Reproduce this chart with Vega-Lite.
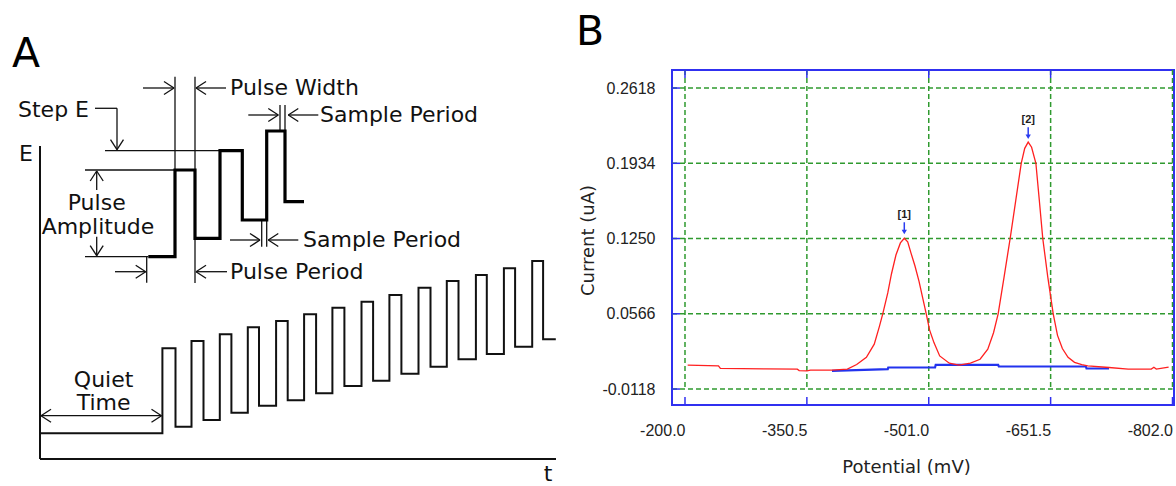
{
"$schema":"https://vega.github.io/schema/vega-lite/v6.json",
"width":502,"height":335,
"autosize":{"type":"none"},
"padding":{"left":672,"top":70,"right":2,"bottom":81},
"background":"white",
"config":{"view":{"stroke":"#3030f0","strokeWidth":2}},
"datasets":{
"aAxis":[{"t":0,"E":313,"t2":0,"E2":0},{"t":0,"E":0,"t2":516,"E2":0}],
"aSeg":[
{"t":135,"E":382.3,"t2":135,"E2":289},
{"t":155,"E":382.3,"t2":155,"E2":176},
{"t":103,"E":371,"t2":134,"E2":371},{"t":124,"E":377.5,"t2":134,"E2":371},{"t":124,"E":364.5,"t2":134,"E2":371},
{"t":186,"E":371,"t2":156,"E2":371},{"t":166,"E":377.5,"t2":156,"E2":371},{"t":166,"E":364.5,"t2":156,"E2":371},
{"t":55,"E":350.7,"t2":77,"E2":350.7},{"t":77,"E":350.7,"t2":77,"E2":309.3},{"t":70.5,"E":319.3,"t2":77,"E2":309.3},{"t":83.5,"E":319.3,"t2":77,"E2":309.3},
{"t":65,"E":308.3,"t2":180,"E2":308.3},
{"t":45,"E":289,"t2":135,"E2":289},
{"t":56.7,"E":269,"t2":56.7,"E2":288},{"t":50.2,"E":278,"t2":56.7,"E2":288},{"t":63.2,"E":278,"t2":56.7,"E2":288},
{"t":56.7,"E":222.3,"t2":56.7,"E2":203.3},{"t":50.2,"E":213.3,"t2":56.7,"E2":203.3},{"t":63.2,"E":213.3,"t2":56.7,"E2":203.3},
{"t":45,"E":202.3,"t2":108.3,"E2":202.3},
{"t":75,"E":187.3,"t2":105.7,"E2":187.3},{"t":95.7,"E":193.8,"t2":105.7,"E2":187.3},{"t":95.7,"E":180.8,"t2":105.7,"E2":187.3},
{"t":106.7,"E":202.3,"t2":106.7,"E2":176.3},
{"t":187,"E":187.3,"t2":156,"E2":187.3},{"t":166,"E":193.8,"t2":156,"E2":187.3},{"t":166,"E":180.8,"t2":156,"E2":187.3},
{"t":208.3,"E":344,"t2":238.3,"E2":344},{"t":228.3,"E":350.5,"t2":238.3,"E2":344},{"t":228.3,"E":337.5,"t2":238.3,"E2":344},
{"t":240,"E":354,"t2":240,"E2":328},{"t":245,"E":354,"t2":245,"E2":328},
{"t":278.3,"E":344,"t2":248.3,"E2":344},{"t":258.3,"E":350.5,"t2":248.3,"E2":344},{"t":258.3,"E":337.5,"t2":248.3,"E2":344},
{"t":190,"E":219,"t2":220,"E2":219},{"t":210,"E":225.5,"t2":220,"E2":219},{"t":210,"E":212.5,"t2":220,"E2":219},
{"t":221.7,"E":239,"t2":221.7,"E2":212.3},{"t":226.7,"E":239,"t2":226.7,"E2":212.3},
{"t":258.3,"E":219,"t2":228.3,"E2":219},{"t":238.3,"E":225.5,"t2":228.3,"E2":219},{"t":238.3,"E":212.5,"t2":228.3,"E2":219},
{"t":1,"E":43.3,"t2":121.5,"E2":43.3},{"t":11,"E":49.8,"t2":1,"E2":43.3},{"t":11,"E":36.8,"t2":1,"E2":43.3},{"t":111.5,"E":49.8,"t2":121.5,"E2":43.3},{"t":111.5,"E":36.8,"t2":121.5,"E2":43.3}
],
"aLow":[
{"i":0,"t":0,"E":25.7},{"i":1,"t":122.4,"E":25.7},{"i":2,"t":122.4,"E":110.7},{"i":3,"t":135.5,"E":110.7},{"i":4,"t":135.5,"E":32.3},
{"i":5,"t":151.5,"E":32.3},{"i":6,"t":151.5,"E":118},{"i":7,"t":163.5,"E":118},{"i":8,"t":163.5,"E":39},
{"i":9,"t":179.8,"E":39},{"i":10,"t":179.8,"E":124.7},{"i":11,"t":191.4,"E":124.7},{"i":12,"t":191.4,"E":46.3},
{"i":13,"t":207.8,"E":46.3},{"i":14,"t":207.8,"E":131.7},{"i":15,"t":219,"E":131.7},{"i":16,"t":219,"E":53.3},
{"i":17,"t":236.1,"E":53.3},{"i":18,"t":236.1,"E":138},{"i":19,"t":247.7,"E":138},{"i":20,"t":247.7,"E":58.7},
{"i":21,"t":264.1,"E":58.7},{"i":22,"t":264.1,"E":144.7},{"i":23,"t":276.1,"E":144.7},{"i":24,"t":276.1,"E":65.7},
{"i":25,"t":292.4,"E":65.7},{"i":26,"t":292.4,"E":151.3},{"i":27,"t":304.4,"E":151.3},{"i":28,"t":304.4,"E":73},
{"i":29,"t":321.5,"E":73},{"i":30,"t":321.5,"E":157.3},{"i":31,"t":333.1,"E":157.3},{"i":32,"t":333.1,"E":78.3},
{"i":33,"t":349.4,"E":78.3},{"i":34,"t":349.4,"E":164},{"i":35,"t":361.4,"E":164},{"i":36,"t":361.4,"E":85.3},
{"i":37,"t":378.5,"E":85.3},{"i":38,"t":378.5,"E":171.3},{"i":39,"t":390.5,"E":171.3},{"i":40,"t":390.5,"E":92.3},
{"i":41,"t":406.8,"E":92.3},{"i":42,"t":406.8,"E":178},{"i":43,"t":418.5,"E":178},{"i":44,"t":418.5,"E":99.7},
{"i":45,"t":435.9,"E":99.7},{"i":46,"t":435.9,"E":184},{"i":47,"t":446.8,"E":184},{"i":48,"t":446.8,"E":105},
{"i":49,"t":463.9,"E":105},{"i":50,"t":463.9,"E":190.7},{"i":51,"t":475.1,"E":190.7},{"i":52,"t":475.1,"E":112.3},
{"i":53,"t":492.2,"E":112.3},{"i":54,"t":492.2,"E":198},{"i":55,"t":503.1,"E":198},{"i":56,"t":503.1,"E":119.7},
{"i":57,"t":515.8,"E":119.7}
],
"aBold":[
{"i":0,"t":108.3,"E":202.3},{"i":1,"t":135,"E":202.3},{"i":2,"t":135,"E":289},{"i":3,"t":155,"E":289},
{"i":4,"t":155,"E":220.7},{"i":5,"t":180,"E":220.7},{"i":6,"t":180,"E":308.3},{"i":7,"t":202.3,"E":308.3},
{"i":8,"t":202.3,"E":239},{"i":9,"t":226.7,"E":239},{"i":10,"t":226.7,"E":328},{"i":11,"t":245,"E":328},
{"i":12,"t":245,"E":257.3},{"i":13,"t":264,"E":257.3}
],
"aTxtL":[
{"t":190,"E":371,"s":"Pulse Width"},
{"t":-22,"E":349,"s":"Step E"},
{"t":280,"E":344,"s":"Sample Period"},
{"t":263,"E":219,"s":"Sample Period"},
{"t":190,"E":187.3,"s":"Pulse Period"}
],
"aTxtC":[
{"t":56.7,"E":255.7,"s":"Pulse"},
{"t":58,"E":232.3,"s":"Amplitude"},
{"t":63.6,"E":79,"s":"Quiet"},
{"t":63.6,"E":55.7,"s":"Time"},
{"t":-14,"E":305,"s":"E"},
{"t":508,"E":-15,"s":"t"}
],
"aBig":[{"t":-14,"E":404,"s":"A"},{"t":550,"E":426,"s":"B"}],
"bGrid":[
{"p":-183.95,"p2":-802,"c":-0.0118,"c2":-0.0118},
{"p":-183.95,"p2":-802,"c":0.0566,"c2":0.0566},
{"p":-183.95,"p2":-802,"c":0.125,"c2":0.125},
{"p":-183.95,"p2":-802,"c":0.1934,"c2":0.1934},
{"p":-183.95,"p2":-802,"c":0.2618,"c2":0.2618},
{"p":-200,"p2":-200,"c":0.2782,"c2":-0.0118},
{"p":-350.5,"p2":-350.5,"c":0.2782,"c2":-0.0118},
{"p":-501,"p2":-501,"c":0.2782,"c2":-0.0118},
{"p":-651.5,"p2":-651.5,"c":0.2782,"c2":-0.0118},
{"p":-802,"p2":-802,"c":0.2782,"c2":-0.0118}
],
"bTick":[
{"p":-183.95,"p2":-193.8,"c":-0.0118,"c2":-0.0118},
{"p":-183.95,"p2":-193.8,"c":0.0566,"c2":0.0566},
{"p":-183.95,"p2":-193.8,"c":0.125,"c2":0.125},
{"p":-183.95,"p2":-193.8,"c":0.1934,"c2":0.1934},
{"p":-183.95,"p2":-193.8,"c":0.2618,"c2":0.2618},
{"p":-200,"p2":-200,"c":0.2782,"c2":0.2709},
{"p":-350.5,"p2":-350.5,"c":0.2782,"c2":0.2709},
{"p":-501,"p2":-501,"c":0.2782,"c2":0.2709},
{"p":-651.5,"p2":-651.5,"c":0.2782,"c2":0.2709},
{"p":-200,"p2":-200,"c":-0.0263,"c2":-0.019},
{"p":-350.5,"p2":-350.5,"c":-0.0263,"c2":-0.019},
{"p":-501,"p2":-501,"c":-0.0263,"c2":-0.019},
{"p":-651.5,"p2":-651.5,"c":-0.0263,"c2":-0.019},
{"p":-802,"p2":-802,"c":-0.0263,"c2":-0.019}
],
"bBlue":[
{"p":-381.5,"c":0.0048},{"p":-450.4,"c":0.0063},{"p":-451.0,"c":0.0078},{"p":-508.8,"c":0.0078},
{"p":-509.6,"c":0.0102},{"p":-586.7,"c":0.0102},{"p":-587.5,"c":0.0087},{"p":-695.0,"c":0.0087},
{"p":-695.8,"c":0.0069},{"p":-723.6,"c":0.0069}
],
"bRed":[
{"p":-203.3,"c":0.0099},{"p":-241.3,"c":0.0093},{"p":-243.7,"c":0.0069},{"p":-300,"c":0.0066},
{"p":-338.7,"c":0.0063},{"p":-341,"c":0.005},{"p":-350.6,"c":0.0048},{"p":-355,"c":0.0054},
{"p":-381.5,"c":0.0054},{"p":-400.5,"c":0.0063},{"p":-412,"c":0.0105},{"p":-424,"c":0.017},
{"p":-433.7,"c":0.029},{"p":-440,"c":0.045},{"p":-444.2,"c":0.0566},{"p":-450.4,"c":0.0756},
{"p":-455,"c":0.093},{"p":-460.5,"c":0.11},{"p":-466,"c":0.121},{"p":-470.8,"c":0.1253},
{"p":-475,"c":0.122},{"p":-479,"c":0.112},{"p":-484,"c":0.1},{"p":-489,"c":0.086},
{"p":-493.5,"c":0.071},{"p":-497.9,"c":0.0566},{"p":-502,"c":0.042},{"p":-507.4,"c":0.0304},
{"p":-514.5,"c":0.0183},{"p":-526.4,"c":0.0117},{"p":-538.3,"c":0.0099},{"p":-552.5,"c":0.0117},
{"p":-564.4,"c":0.0153},{"p":-573.9,"c":0.0244},{"p":-581,"c":0.0394},{"p":-586.7,"c":0.0566},
{"p":-594,"c":0.09},{"p":-601.5,"c":0.125},{"p":-608.5,"c":0.16},{"p":-615.2,"c":0.1934},
{"p":-619.5,"c":0.207},{"p":-623.8,"c":0.2127},{"p":-628,"c":0.208},{"p":-633.3,"c":0.1934},
{"p":-637.5,"c":0.16},{"p":-641.8,"c":0.125},{"p":-648,"c":0.09},{"p":-654.7,"c":0.0566},
{"p":-660,"c":0.037},{"p":-666,"c":0.025},{"p":-673,"c":0.017},{"p":-681,"c":0.0125},
{"p":-690,"c":0.0105},{"p":-697.4,"c":0.0093},{"p":-723.6,"c":0.0078},{"p":-747.3,"c":0.0063},
{"p":-775.8,"c":0.0063},{"p":-779,"c":0.008},{"p":-782,"c":0.0063},{"p":-797.2,"c":0.0081}
],
"bPeak":[{"p":-470.8,"c":0.1464,"s":"[1]"},{"p":-623.8,"c":0.2323,"s":"[2]"}],
"bArrow":[{"p":-470.8,"c":0.1398,"c2":0.131},{"p":-623.8,"c":0.2262,"c2":0.2175}],
"bHead":[{"p":-470.8,"c":0.131},{"p":-623.8,"c":0.2175}]
},
"layer":[
{"encoding":{
 "x":{"field":"t","type":"quantitative","scale":{"domain":[632,1134],"nice":false,"zero":false},"axis":null},
 "y":{"field":"E","type":"quantitative","scale":{"domain":[54,389],"nice":false,"zero":false},"axis":null}},
 "layer":[
 {"data":{"name":"aAxis"},"mark":{"type":"rule","color":"#111111","strokeWidth":2},"encoding":{"x2":{"field":"t2"},"y2":{"field":"E2"}}},
 {"data":{"name":"aSeg"},"mark":{"type":"rule","color":"#111111","strokeWidth":1.3},"encoding":{"x2":{"field":"t2"},"y2":{"field":"E2"}}},
 {"data":{"name":"aLow"},"mark":{"type":"line","color":"#111111","strokeWidth":2},"encoding":{"order":{"field":"i","type":"quantitative"}}},
 {"data":{"name":"aBold"},"mark":{"type":"line","color":"#000000","strokeWidth":3.2},"encoding":{"order":{"field":"i","type":"quantitative"}}},
 {"data":{"name":"aTxtL"},"mark":{"type":"text","align":"left","baseline":"middle","font":"DejaVu Sans","fontSize":22,"color":"#111111"},"encoding":{"text":{"field":"s","type":"nominal"}}},
 {"data":{"name":"aTxtC"},"mark":{"type":"text","align":"center","baseline":"middle","font":"DejaVu Sans","fontSize":22,"color":"#111111"},"encoding":{"text":{"field":"s","type":"nominal"}}},
 {"data":{"name":"aBig"},"mark":{"type":"text","align":"center","baseline":"middle","font":"DejaVu Sans","fontSize":41,"color":"#000000"},"encoding":{"text":{"field":"s","type":"nominal"}}}
 ]},
{"encoding":{
 "x":{"field":"p","type":"quantitative","scale":{"domain":[-803.85,-183.95],"reverse":true,"nice":false,"zero":false},
  "axis":{"values":[-200,-350.5,-501,-651.5,-802],"labelExpr":"datum.value < 0 ? '-' + format(-datum.value, '.1f') : format(datum.value, '.1f')","grid":false,"ticks":false,"tickSize":0,"domain":false,"labelAlign":"right","labelFlush":false,"labelOverlap":false,"labelPadding":17,"labelFont":"Liberation Sans","labelFontSize":16,"labelColor":"#222222","title":"Potential (mV)","titleFont":"DejaVu Sans","titleFontSize":18,"titleFontWeight":"normal","titleColor":"#222222","titleX":234,"titleY":62,"titleBaseline":"middle"}},
 "y":{"field":"c","type":"quantitative","scale":{"domain":[-0.0263,0.2782],"nice":false,"zero":false},
  "axis":{"values":[-0.0118,0.0566,0.125,0.1934,0.2618],"labelExpr":"datum.value < 0 ? '-' + format(-datum.value, '.4f') : format(datum.value, '.4f')","grid":false,"ticks":false,"tickSize":0,"domain":false,"labelFlush":false,"labelOverlap":false,"labelPadding":17,"labelFont":"Liberation Sans","labelFontSize":16,"labelColor":"#222222","title":"Current (uA)","titleFont":"DejaVu Sans","titleFontSize":18,"titleFontWeight":"normal","titleColor":"#222222","titleX":-84,"titleY":170,"titleBaseline":"middle"}}},
 "layer":[
 {"data":{"name":"bGrid"},"mark":{"type":"rule","color":"#2f9a2f","strokeWidth":1.5,"strokeDash":[5,3]},"encoding":{"x2":{"field":"p2"},"y2":{"field":"c2"}}},
 {"data":{"name":"bTick"},"mark":{"type":"rule","color":"#3030f0","strokeWidth":1.5},"encoding":{"x2":{"field":"p2"},"y2":{"field":"c2"}}},
 {"data":{"name":"bBlue"},"mark":{"type":"line","color":"#2233ee","strokeWidth":2.2}},
 {"data":{"name":"bRed"},"mark":{"type":"line","color":"#ff2020","strokeWidth":1.3}},
 {"data":{"name":"bArrow"},"mark":{"type":"rule","color":"#2a3cf0","strokeWidth":1.5},"encoding":{"y2":{"field":"c2"}}},
 {"data":{"name":"bHead"},"mark":{"type":"point","shape":"triangle-down","filled":true,"color":"#2a3cf0","size":28,"opacity":1}},
 {"data":{"name":"bPeak"},"mark":{"type":"text","align":"center","baseline":"middle","font":"Liberation Sans","fontSize":11,"fontWeight":"bold","color":"#222222"},"encoding":{"text":{"field":"s","type":"nominal"}}}
 ]}
],
"resolve":{"scale":{"x":"independent","y":"independent"}}
}
